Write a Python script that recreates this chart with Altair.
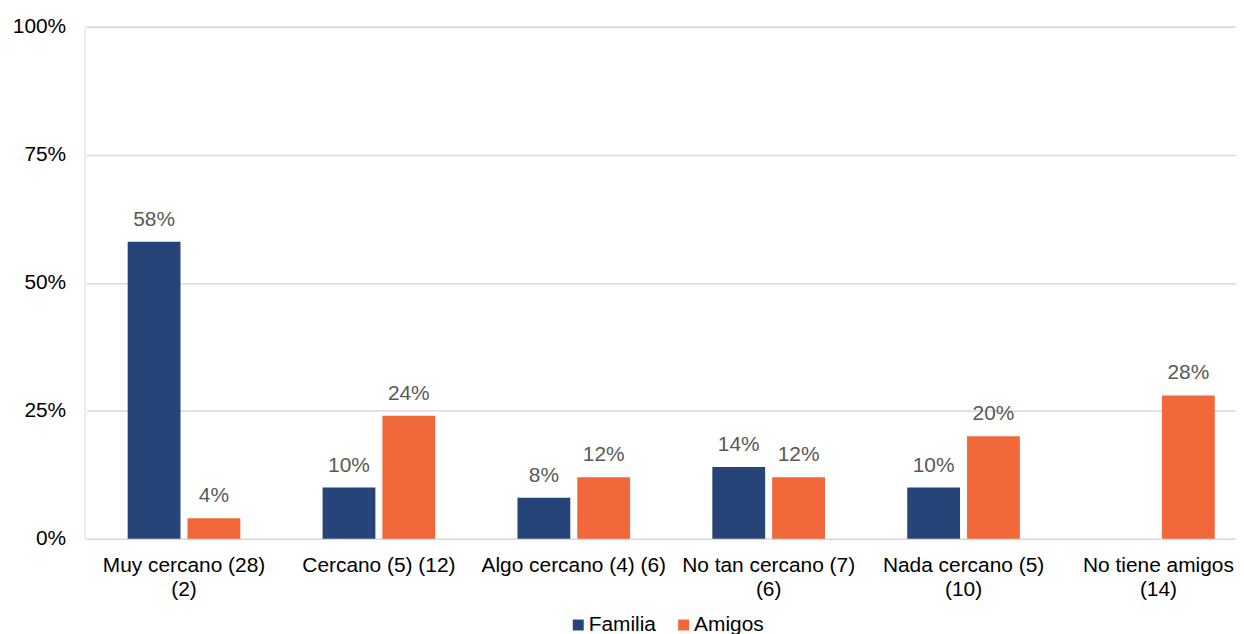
import altair as alt
import pandas as pd

categories = [
    "Muy cercano (28)|(2)",
    "Cercano (5) (12)",
    "Algo cercano (4) (6)",
    "No tan cercano (7)|(6)",
    "Nada cercano (5)|(10)",
    "No tiene amigos|(14)",
]
series = ["Familia", "Amigos"]
familia = [0.58, 0.10, 0.08, 0.14, 0.10, None]
amigos = [0.04, 0.24, 0.12, 0.12, 0.20, 0.28]
colors = ["#264478", "#F0673A"]
y_ticks = [0, 0.25, 0.5, 0.75, 1.0]

rows = []
for c, f, a in zip(categories, familia, amigos):
    if f is not None:
        rows.append({"cat": c, "serie": "Familia", "val": f})
    if a is not None:
        rows.append({"cat": c, "serie": "Amigos", "val": a})
df = pd.DataFrame(rows)

FONT = "Liberation Sans"

x_enc = alt.X(
    "cat:N",
    sort=categories,
    title=None,
    scale=alt.Scale(domain=categories, range=[2, 1178], paddingInner=0, paddingOuter=0),
    axis=alt.Axis(
        labelExpr="split(datum.label, '|')",
        labelAngle=0,
        labelFont=FONT,
        labelFontSize=21,
        labelColor="#000000",
        labelPadding=16,
        labelLineHeight=24,
        labelLimit=400,
        domain=False,
        ticks=False,
        grid=False,
    ),
)
xoff_enc = alt.XOffset(
    "serie:N",
    sort=series,
    scale=alt.Scale(domain=series, paddingInner=0.117, paddingOuter=0.6875),
)
y_enc = alt.Y(
    "val:Q",
    title=None,
    scale=alt.Scale(domain=[0, 1], nice=False),
    axis=alt.Axis(
        values=y_ticks,
        format=".0%",
        labelFont=FONT,
        labelFontSize=21,
        labelColor="#000000",
        labelPadding=19,
        domain=False,
        ticks=False,
        gridColor="#d9d9d9",
        gridWidth=1.5,
    ),
)

bars = alt.Chart(df).mark_bar().encode(
    x=x_enc,
    xOffset=xoff_enc,
    y=y_enc,
    color=alt.Color(
        "serie:N",
        sort=series,
        scale=alt.Scale(domain=series, range=colors),
        legend=alt.Legend(
            title=None,
            orient="none",
            legendX=486,
            legendY=591,
            direction="horizontal",
            symbolType="square",
            symbolSize=121,
            symbolStrokeWidth=0,
            labelFont=FONT,
            labelFontSize=21,
            labelColor="#000000",
            labelOffset=0,
            columnPadding=17,
            padding=0,
        ),
    ),
)

labels = alt.Chart(df).mark_text(
    font=FONT, fontSize=21, color="#595959", baseline="alphabetic", dy=-16
).encode(
    x=alt.X("cat:N", sort=categories),
    xOffset=alt.XOffset("serie:N", sort=series),
    y=alt.Y("val:Q"),
    text=alt.Text("val:Q", format=".0%"),
)

chart = (
    alt.layer(bars, labels)
    .properties(
        width=1158,
        height=515,
        autosize=alt.AutoSizeParams(type="none"),
        padding={"left": 77, "top": 17, "right": 0, "bottom": 94},
    )
    .configure_view(stroke=None)
    .configure(background="white")
)

chart.save("out.html", embed_options={"renderer": "svg", "actions": False})
